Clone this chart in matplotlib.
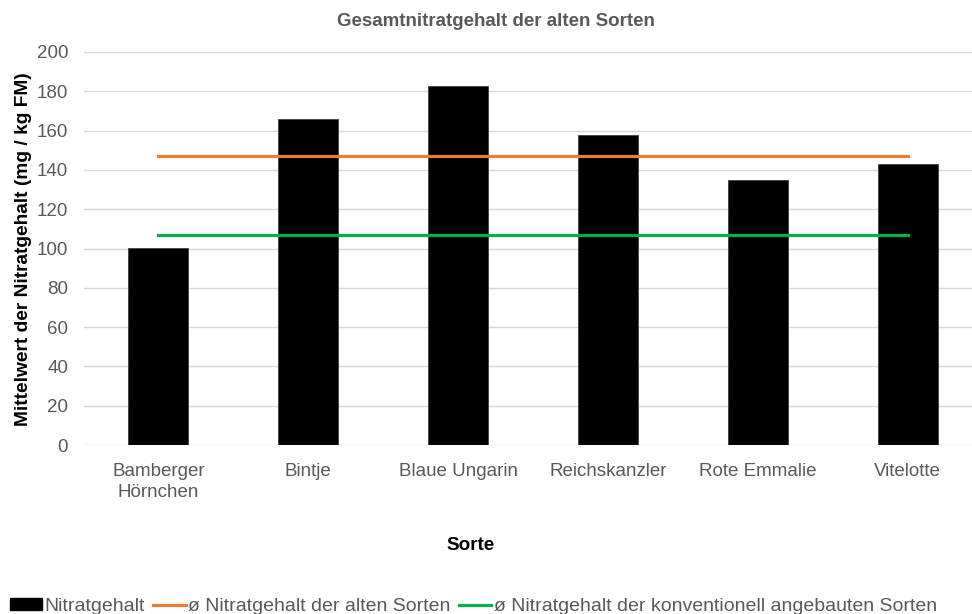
import matplotlib.pyplot as plt
import matplotlib.patches as mpatches
from matplotlib.lines import Line2D

plt.rcParams['font.family'] = ['Liberation Sans', 'DejaVu Sans']

sorten = ['Bamberger\nHörnchen', 'Bintje', 'Blaue Ungarin', 'Reichskanzler', 'Rote Emmalie', 'Vitelotte']
nitrat = [100.2, 165.9, 182.8, 157.9, 135.0, 143.1]
avg_alt = 147.3
avg_konv = 107.0

grey = '#595959'
orange = '#ED7D31'
green = '#00B050'

fig = plt.figure(figsize=(9.72, 6.14), dpi=100)
ax = fig.add_axes([83.5 / 972, 1 - 445 / 614, 899 / 972, 393 / 614])

x = list(range(len(sorten)))
ax.bar(x, nitrat, width=0.4, color='black', edgecolor='#404040', linewidth=0.6, zorder=2)
ax.plot(x, [avg_alt] * len(x), color=orange, lw=2.3, zorder=3)
ax.plot(x, [avg_konv] * len(x), color=green, lw=2.3, zorder=3)

ax.set_xlim(-0.5, len(sorten) - 0.5)
ax.set_ylim(0, 200)
ax.set_yticks(range(0, 201, 20))
ax.set_xticks(x)
ax.set_xticklabels(sorten, linespacing=1.3)
ax.tick_params(axis='both', length=0, labelsize=13.5, labelcolor=grey)
ax.tick_params(axis='x', pad=13)
ax.tick_params(axis='y', pad=11)
ax.grid(axis='y', color='#d9d9d9', lw=1, zorder=0)
for s in ax.spines.values():
    s.set_visible(False)

fig.text(496 / 972, 1 - 21 / 614, 'Gesamtnitratgehalt der alten Sorten', ha='center', va='center',
         fontsize=13.5, fontweight='bold', color=grey)
fig.text(24 / 972, 1 - 249 / 614, 'Mittelwert der Nitratgehalt (mg / kg FM)', rotation=90,
         ha='center', va='center', fontsize=13.8, fontweight='bold', color='black')
fig.text(471 / 972, 1 - 545 / 614, 'Sorte', ha='center', va='center',
         fontsize=13.6, fontweight='bold', color='black')

handles = [
    mpatches.Patch(facecolor='black', edgecolor='black'),
    Line2D([0], [0], color=orange, lw=2.3),
    Line2D([0], [0], color=green, lw=2.3),
]
labels = ['Nitratgehalt', 'ø Nitratgehalt der alten Sorten',
          'ø Nitratgehalt der konventionell angebauten Sorten']
leg = fig.legend(handles, labels, loc='lower left', bbox_to_anchor=(-0.006, -0.027), ncol=3,
                 frameon=False, fontsize=14, handlelength=1.65, handleheight=0.55,
                 handletextpad=0.13, columnspacing=0.45, borderpad=0.3)
for t in leg.get_texts():
    t.set_color(grey)

fig.savefig('out.png', dpi=100)
